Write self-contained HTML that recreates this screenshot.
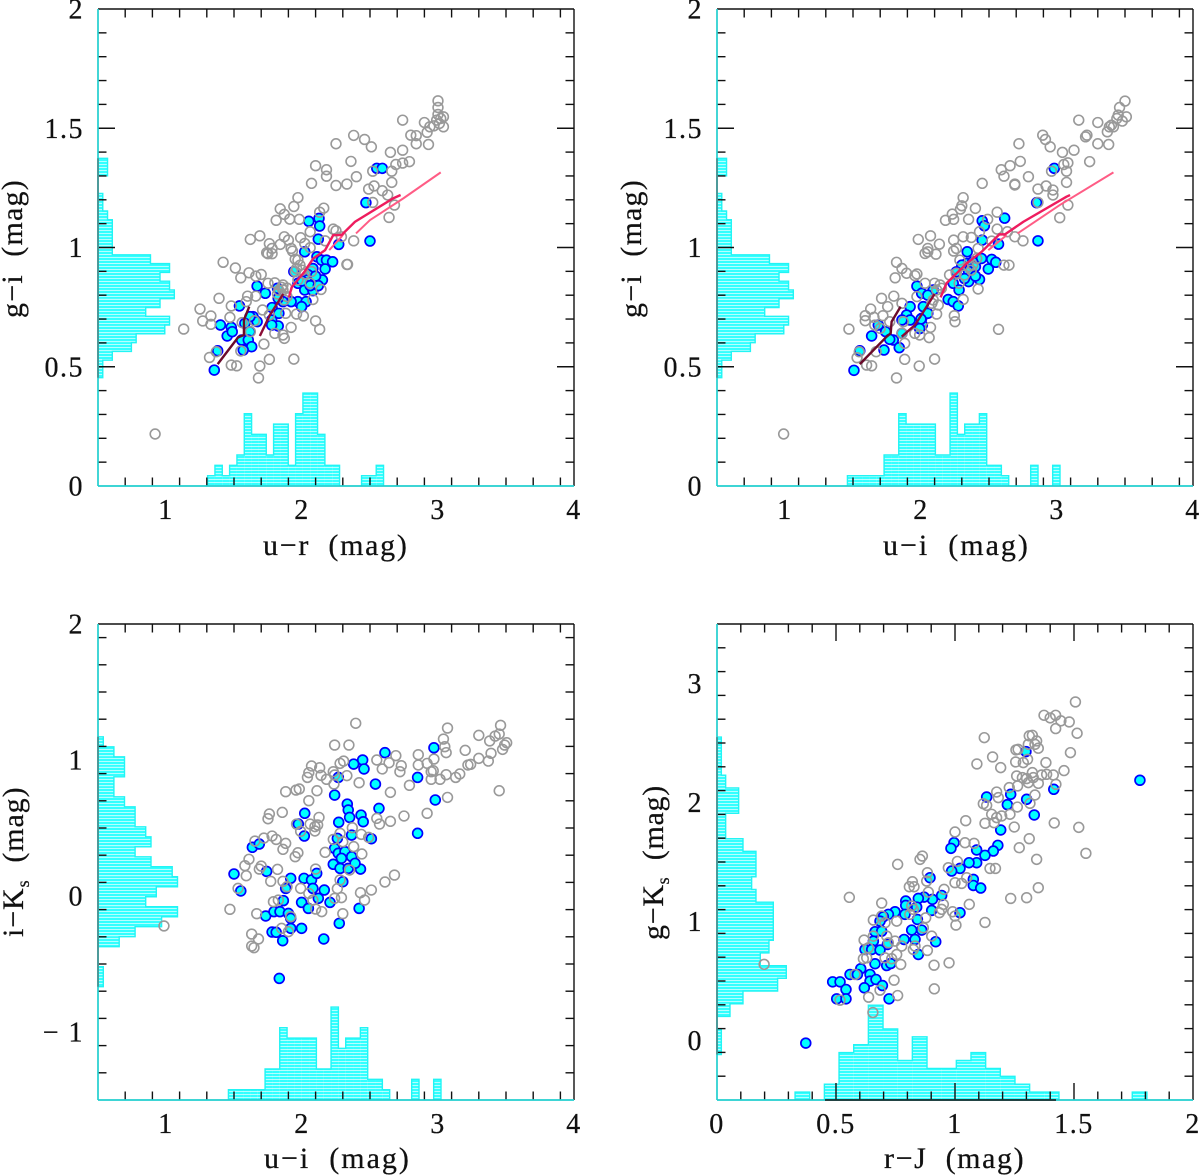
<!DOCTYPE html>
<html lang="en">
<head>
<meta charset="utf-8">
<title>Colour-colour diagrams</title>
<style>
html,body{margin:0;padding:0;background:#fff;}
svg{display:block;}
text{font-family:"Liberation Serif",serif;fill:#111;stroke:#111;stroke-width:0.25;white-space:pre;}
</style>
</head>
<body>
<svg id="figure" width="1200" height="1175" viewBox="0 0 1200 1175" xmlns="http://www.w3.org/2000/svg" xml:space="preserve">
<defs>
<pattern id="hatch" width="6" height="3" patternUnits="userSpaceOnUse">
<rect width="6" height="3" fill="#b4ffff"/>
<rect width="6" height="2" fill="#33ffff"/>
</pattern>
</defs>
<rect width="1200" height="1175" fill="#fff"/>
<g id="p1"></g>
<g id="p2"></g>
<g id="p3"></g>
<g id="p4"></g>
<text x="263" y="555" font-size="30" letter-spacing="1.7">u−r  (mag)</text>
<text x="883" y="555" font-size="30" letter-spacing="2">u−i  (mag)</text>
<text x="264" y="1168" font-size="30" letter-spacing="2">u−i  (mag)</text>
<text x="884" y="1168" font-size="30" letter-spacing="1.6">r−J  (mag)</text>
<text transform="translate(22,318) rotate(-90)" font-size="30" letter-spacing="1.2">g−i  (mag)</text>
<text transform="translate(641,318) rotate(-90)" font-size="30" letter-spacing="1.2">g−i  (mag)</text>
<text transform="translate(23,937) rotate(-90)" font-size="30" letter-spacing="0.9">i−K<tspan font-size="18" dy="6">s</tspan><tspan dy="-6">  (mag)</tspan></text>
<text transform="translate(663,940) rotate(-90)" font-size="30" letter-spacing="0.7">g−K<tspan font-size="18" dy="6">s</tspan><tspan dy="-6">  (mag)</tspan></text>
</svg>
<script>
/* ---------- data: [x, y] in magnitudes ---------- */
const p1Grey = [[3.00,1.615],[3.00,1.587],[3.00,1.558],[3.04,1.548],[3.02,1.541],[2.99,1.534],[3.01,1.52],[3.04,1.506],[2.97,1.51],[2.94,1.506],[2.90,1.524],[2.74,1.534],[2.92,1.483],[2.84,1.469],[2.80,1.471],[2.84,1.435],[2.93,1.432],[2.74,1.408],[2.65,1.399],[2.79,1.36],[2.74,1.354],[2.69,1.348],[2.66,1.32],[2.52,1.32],[2.38,1.47],[2.46,1.453],[2.51,1.422],[2.25,1.435],[2.36,1.361],[2.10,1.343],[2.18,1.326],[2.18,1.299],[2.40,1.297],[2.33,1.266],[2.25,1.26],[2.07,1.269],[2.66,1.273],[2.53,1.258],[2.49,1.245],[2.59,1.238],[2.63,1.22],[1.97,1.209],[1.94,1.172],[1.84,1.162],[2.16,1.165],[2.13,1.148],[1.87,1.139],[1.91,1.119],[1.81,1.114],[1.98,1.118],[2.52,1.189],[2.68,1.178],[2.64,1.126],[2.23,1.077],[2.25,1.07],[2.29,1.045],[2.06,1.066],[2.38,1.028],[1.69,1.049],[1.62,1.034],[1.76,1.016],[1.84,1.013],[1.87,1.045],[1.90,1.031],[1.99,1.041],[1.78,0.996],[1.74,0.978],[1.75,0.974],[1.78,0.974],[1.92,0.996],[1.93,0.985],[2.02,1.017],[2.06,0.999],[2.17,1.028],[2.33,0.929],[2.335,0.929],[1.95,0.951],[1.97,0.947],[1.42,0.938],[1.51,0.914],[1.61,0.894],[1.55,0.873],[1.66,0.88],[1.70,0.887],[2.00,0.905],[1.95,0.899],[2.06,0.85],[2.14,0.824],[1.75,0.85],[1.80,0.852],[1.86,0.843],[1.60,0.796],[1.66,0.796],[1.39,0.787],[1.59,0.773],[1.48,0.755],[1.25,0.742],[1.33,0.713],[1.27,0.692],[1.33,0.678],[1.47,0.707],[1.13,0.658],[1.71,0.738],[2.08,0.782],[1.96,0.721],[2.01,0.713],[2.10,0.692],[2.13,0.657],[1.92,0.665],[1.88,0.724],[1.65,0.693],[1.56,0.685],[1.62,0.647],[1.76,0.717],[1.80,0.64],[1.86,0.633],[1.87,0.619],[1.72,0.595],[1.48,0.507],[1.52,0.504],[1.69,0.503],[1.76,0.531],[1.94,0.532],[1.68,0.453],[1.37,0.563],[1.32,0.539],[1.55,0.566],[1.86,0.822],[1.82,0.805],[1.97,0.864],[2.07,0.899],[2.02,0.889],[1.96,0.912],[1.985,0.926],[1.85,0.833],[1.89,0.794],[1.89,0.83],[1.83,0.82],[1.87,0.78],[0.92,0.218]];
const p1Blue = [[2.55,1.332],[2.59,1.332],[2.47,1.188],[2.05,1.11],[2.125,1.122],[2.13,1.09],[2.12,1.035],[2.27,1.013],[2.50,1.027],[2.02,0.982],[2.11,0.961],[2.144,0.947],[2.18,0.947],[2.225,0.94],[2.17,0.91],[2.15,0.864],[2.08,0.912],[1.94,0.899],[2.046,0.885],[1.97,0.85],[2.02,0.822],[2.08,0.819],[2.03,0.864],[2.00,0.86],[2.06,0.84],[2.10,0.88],[2.12,0.84],[1.67,0.838],[1.73,0.808],[1.82,0.829],[1.97,0.773],[2.03,0.773],[1.997,0.752],[1.92,0.773],[1.86,0.773],[1.825,0.787],[1.78,0.748],[1.83,0.724],[1.54,0.755],[1.40,0.675],[1.48,0.665],[1.45,0.629],[1.487,0.647],[1.64,0.71],[1.67,0.689],[1.617,0.71],[1.58,0.682],[1.777,0.696],[1.825,0.671],[1.777,0.675],[1.617,0.647],[1.556,0.612],[1.605,0.612],[1.63,0.584],[1.568,0.57],[1.38,0.567],[1.355,0.486]];
const p2Grey = [[3.50,1.614],[3.46,1.587],[3.45,1.555],[3.51,1.548],[3.48,1.53],[3.44,1.541],[3.40,1.513],[3.385,1.506],[3.415,1.506],[3.37,1.485],[3.30,1.524],[3.16,1.534],[3.21,1.464],[3.22,1.471],[2.895,1.471],[2.915,1.453],[2.95,1.422],[3.30,1.435],[3.38,1.432],[3.125,1.408],[3.04,1.399],[3.08,1.355],[3.05,1.348],[3.24,1.36],[2.96,1.32],[3.07,1.32],[2.72,1.435],[2.73,1.361],[2.655,1.343],[2.59,1.326],[2.61,1.299],[2.79,1.297],[2.69,1.266],[2.69,1.262],[2.45,1.269],[3.07,1.273],[2.92,1.258],[2.86,1.245],[2.97,1.241],[2.97,1.22],[2.31,1.209],[2.30,1.175],[2.29,1.161],[2.40,1.164],[2.56,1.148],[2.23,1.14],[2.24,1.118],[2.18,1.114],[2.35,1.118],[2.49,1.118],[3.08,1.178],[3.02,1.125],[2.86,1.189],[2.56,1.077],[2.635,1.066],[2.43,1.066],[2.69,1.045],[2.75,1.028],[2.07,1.049],[1.98,1.034],[2.135,1.014],[2.24,1.031],[2.31,1.045],[2.37,1.042],[2.05,0.996],[2.05,0.982],[2.03,0.975],[2.11,0.972],[2.26,0.996],[2.24,0.985],[2.42,0.996],[2.52,1.027],[2.61,0.926],[2.647,0.926],[1.81,0.873],[1.86,0.912],[1.82,0.938],[1.894,0.892],[1.955,0.882],[1.97,0.889],[2.03,0.85],[2.10,0.85],[2.14,0.843],[2.42,0.826],[1.71,0.787],[1.80,0.796],[1.86,0.766],[1.755,0.752],[1.63,0.742],[1.59,0.714],[1.59,0.693],[1.654,0.707],[1.72,0.714],[1.77,0.689],[1.47,0.658],[1.66,0.675],[1.70,0.661],[1.97,0.794],[2.31,0.782],[2.115,0.721],[2.245,0.714],[2.25,0.689],[2.07,0.665],[2.57,0.657],[1.99,0.633],[1.955,0.64],[2.06,0.622],[1.88,0.598],[1.67,0.563],[1.53,0.538],[1.60,0.507],[1.637,0.504],[1.88,0.531],[2.10,0.532],[1.987,0.503],[1.82,0.453],[1.546,0.563],[1.87,0.689],[1.86,0.64],[2.127,0.759],[2.08,0.766],[2.15,0.829],[2.115,0.822],[2.09,0.78],[2.37,0.905],[2.35,0.92],[2.32,0.885],[2.26,0.892],[2.41,0.954],[2.286,0.947],[2.38,0.926],[2.28,0.85],[2.21,0.885],[0.99,0.218]];
const p2Blue = [[2.98,1.332],[2.85,1.188],[2.86,1.028],[2.615,1.123],[2.45,1.112],[2.466,1.091],[2.45,1.031],[2.57,1.014],[2.34,0.982],[2.52,0.95],[2.55,0.938],[2.495,0.91],[2.43,0.866],[2.445,0.954],[2.335,0.933],[2.30,0.926],[2.26,0.898],[2.35,0.857],[2.237,0.85],[2.28,0.822],[2.38,0.94],[2.40,0.92],[2.35,0.90],[2.32,0.87],[2.40,0.88],[1.97,0.838],[2.005,0.808],[2.09,0.822],[2.20,0.782],[2.237,0.773],[2.274,0.755],[1.92,0.752],[2.017,0.752],[1.894,0.717],[1.92,0.696],[1.86,0.696],[2.005,0.703],[2.01,0.675],[2.05,0.724],[2.00,0.70],[1.99,0.66],[1.686,0.675],[1.74,0.647],[1.86,0.64],[1.637,0.629],[1.796,0.612],[1.77,0.615],[1.84,0.58],[1.728,0.57],[1.55,0.567],[1.507,0.485],[2.05,0.80]];
const p3Grey = [[2.395,1.27],[3.46,1.255],[3.07,1.235],[3.45,1.191],[3.30,1.181],[3.42,1.176],[3.04,1.154],[3.38,1.14],[2.24,1.11],[2.345,1.11],[3.505,1.127],[3.49,1.11],[3.475,1.078],[3.05,1.098],[3.20,1.071],[3.06,1.054],[2.855,1.039],[2.69,1.032],[3.39,1.049],[3.30,1.012],[2.97,1.007],[3.37,0.992],[2.306,0.992],[2.28,0.975],[2.55,1.0],[2.64,0.98],[2.07,0.956],[2.13,0.943],[3.24,0.968],[3.22,0.963],[2.855,0.963],[2.92,0.975],[2.73,0.958],[2.59,0.934],[2.05,0.907],[2.04,0.872],[2.14,0.887],[2.23,0.914],[2.24,0.89],[2.18,0.858],[2.33,0.885],[2.965,0.921],[2.95,0.914],[2.72,0.914],[3.06,0.892],[3.16,0.897],[3.13,0.872],[3.015,0.858],[2.95,0.858],[2.79,0.814],[2.42,0.833],[2.235,0.823],[1.88,0.767],[1.956,0.779],[1.98,0.787],[2.11,0.774],[2.65,0.762],[3.45,0.774],[2.05,0.701],[3.07,0.725],[1.76,0.603],[1.75,0.568],[1.855,0.615],[2.125,0.578],[2.92,0.608],[2.75,0.588],[2.55,0.571],[2.57,0.529],[2.65,0.549],[2.115,0.522],[2.095,0.51],[2.06,0.529],[2.095,0.478],[1.99,0.475],[1.96,0.529],[2.37,0.502],[2.28,0.461],[2.436,0.453],[2.49,0.431],[2.23,0.416],[1.78,0.441],[1.72,0.426],[1.81,0.416],[1.654,0.404],[1.88,0.387],[1.86,0.343],[2.30,0.399],[2.38,0.363],[2.17,0.321],[2.44,0.309],[1.97,0.318],[1.95,0.289],[1.61,0.27],[1.58,0.223],[1.70,0.22],[1.686,0.198],[1.82,0.196],[1.59,0.149],[2.10,0.198],[2.68,0.154],[2.61,0.103],[2.51,0.044],[1.77,0.108],[1.86,0.108],[2.35,0.191],[2.43,0.024],[2.46,-0.03],[2.28,0.118],[2.26,0.054],[2.29,-0.012],[2.24,-0.017],[1.99,0.056],[2.05,0.019],[1.53,0.056],[1.47,-0.098],[1.667,-0.13],[1.79,-0.042],[1.826,-0.03],[2.10,-0.096],[2.145,-0.115],[2.08,-0.03],[2.30,-0.13],[1.63,-0.28],[1.68,-0.316],[1.63,-0.368],[1.647,-0.38],[1.85,-0.238],[1.90,-0.262],[1.917,-0.152],[1.89,0.068],[0.985,-0.22]];
const p3Blue = [[2.61,1.054],[2.97,1.09],[2.446,1.0],[2.38,0.97],[2.456,0.934],[2.85,0.872],[2.267,0.872],[2.54,0.823],[2.24,0.742],[2.98,0.706],[2.333,0.676],[2.566,0.644],[2.02,0.608],[2.34,0.632],[2.35,0.578],[2.434,0.595],[2.45,0.546],[2.27,0.542],[1.973,0.529],[2.017,0.441],[2.365,0.448],[2.26,0.424],[2.51,0.421],[2.85,0.461],[1.635,0.358],[1.686,0.382],[2.24,0.35],[2.267,0.314],[2.316,0.326],[2.365,0.289],[2.29,0.277],[2.23,0.233],[2.28,0.203],[2.34,0.203],[2.43,0.198],[2.39,0.24],[1.50,0.162],[1.74,0.181],[1.55,0.037],[1.88,0.056],[1.917,0.13],[2.015,0.13],[2.07,0.118],[2.108,0.166],[2.08,0.056],[2.164,0.044],[2.30,0.105],[2.12,-0.017],[1.997,-0.047],[2.047,-0.091],[2.206,-0.047],[2.42,-0.091],[2.274,-0.201],[2.16,-0.316],[1.833,-0.606],[1.863,-0.034],[1.733,-0.147],[1.794,-0.115],[1.838,-0.115],[1.90,-0.128],[1.917,-0.164],[1.917,-0.238],[1.997,-0.238],[1.78,-0.265],[1.81,-0.267],[1.858,-0.329]];
const p4Grey = [[1.506,2.845],[1.374,2.733],[1.40,2.711],[1.423,2.733],[1.445,2.686],[1.48,2.677],[1.423,2.621],[1.513,2.582],[1.123,2.545],[1.312,2.56],[1.325,2.565],[1.343,2.517],[1.308,2.489],[1.336,2.489],[1.35,2.456],[1.256,2.442],[1.265,2.447],[1.485,2.419],[1.158,2.383],[1.092,2.324],[1.255,2.341],[1.305,2.363],[1.287,2.335],[1.382,2.335],[1.192,2.293],[1.458,2.268],[1.259,2.223],[1.283,2.209],[1.325,2.251],[1.364,2.231],[1.385,2.237],[1.413,2.231],[1.301,2.201],[1.329,2.209],[1.308,2.167],[1.35,2.161],[1.424,2.153],[1.228,2.125],[1.263,2.139],[1.175,2.088],[1.182,2.041],[1.336,2.063],[1.315,1.993],[1.119,1.99],[1.133,1.976],[1.262,1.962],[1.231,1.901],[1.196,1.887],[1.154,1.901],[1.175,1.873],[1.164,1.83],[1.126,1.825],[1.249,1.794],[1.417,1.828],[1.52,1.791],[1.045,1.847],[1.0,1.752],[1.312,1.696],[1.27,1.62],[1.042,1.662],[1.08,1.657],[1.55,1.573],[1.343,1.522],[0.863,1.55],[0.853,1.522],[0.759,1.48],[0.972,1.452],[1.01,1.505],[1.147,1.446],[1.17,1.446],[0.884,1.41],[0.821,1.334],[0.808,1.292],[0.828,1.292],[0.881,1.34],[1.0,1.326],[1.028,1.32],[1.049,1.368],[1.35,1.284],[1.301,1.2],[1.234,1.194],[0.954,1.27],[0.888,1.247],[0.556,1.203],[0.692,1.155],[1.06,1.144],[0.951,1.144],[0.944,1.102],[0.934,1.074],[0.99,1.082],[1.0,1.046],[1.126,0.992],[1.004,0.97],[0.818,1.13],[0.825,1.102],[0.81,1.06],[0.877,1.031],[0.657,1.012],[0.692,1.046],[0.706,0.99],[0.755,1.003],[0.867,0.947],[0.902,0.877],[0.748,0.835],[0.776,0.793],[0.618,0.844],[0.832,0.793],[0.825,0.765],[0.884,0.757],[0.755,0.723],[0.734,0.687],[0.706,0.695],[0.629,0.695],[0.615,0.687],[0.772,0.639],[0.912,0.633],[0.975,0.653],[0.744,0.507],[0.685,0.423],[0.913,0.434],[0.759,0.378],[0.637,0.364],[0.517,0.339],[0.58,0.555],[0.636,0.779],[0.657,0.877],[0.72,0.821],[0.713,0.877],[0.655,0.235],[0.198,0.64]];
const p4Blue = [[1.298,2.428],[1.415,2.111],[1.234,2.069],[1.133,2.046],[1.301,2.027],[1.22,1.982],[1.333,1.895],[1.192,1.769],[0.996,1.662],[0.983,1.615],[1.18,1.64],[1.161,1.592],[1.126,1.556],[1.091,1.601],[1.091,1.494],[1.059,1.494],[1.021,1.446],[0.986,1.424],[1.077,1.354],[1.077,1.303],[1.108,1.281],[0.895,1.368],[0.944,1.219],[0.905,1.186],[0.902,1.093],[1.021,1.074],[0.87,1.205],[0.846,1.194],[0.793,1.172],[0.793,1.135],[0.79,1.06],[0.748,1.082],[0.72,1.06],[0.839,1.121],[0.842,1.017],[0.699,1.04],[0.685,1.003],[0.664,0.914],[0.692,0.919],[0.86,0.928],[0.818,0.928],[0.786,0.849],[0.832,0.849],[0.919,0.83],[0.846,0.723],[0.657,0.835],[0.716,0.807],[0.622,0.765],[0.65,0.765],[0.685,0.76],[0.664,0.645],[0.604,0.603],[0.713,0.63],[0.73,0.647],[0.559,0.555],[0.59,0.555],[0.643,0.555],[0.643,0.499],[0.668,0.513],[0.695,0.462],[0.486,0.493],[0.517,0.493],[0.542,0.429],[0.619,0.443],[0.503,0.35],[0.542,0.35],[0.723,0.35],[1.777,2.187],[0.373,-0.022]];

/* model tracks */
const p1TrackA = [[1.38,0.511],[1.53,0.623],[1.573,0.633],[1.573,0.696],[1.612,0.752]];
const p1TrackB = [[1.69,0.629],[1.764,0.717],[1.862,0.805]];
const p1TrackC = [[1.904,0.791],[1.924,0.833],[2.02,0.90],[2.083,0.954],[2.17,0.989],[2.23,1.052],[2.29,1.052],[2.39,1.108],[2.67,1.206],[2.725,1.22]];
const p1TrackD = [[2.20,0.989],[2.29,1.045],[2.316,1.066]];
const p1TrackE = [[2.397,1.059],[2.50,1.115],[2.745,1.206],[3.02,1.315]];
const p2TrackA = [[1.55,0.511],[1.747,0.626],[1.777,0.64],[1.784,0.689],[1.85,0.752]];
const p2TrackB = [[1.858,0.626],[1.956,0.675],[2.10,0.805]];
const p2TrackC = [[2.144,0.791],[2.188,0.85],[2.335,0.933],[2.446,0.982],[2.576,1.055],[2.617,1.055],[2.753,1.108],[3.07,1.213],[3.096,1.22]];
const p2TrackD = [[2.495,0.989],[2.63,1.052]];
const p2TrackE = [[2.71,1.059],[3.02,1.178],[3.415,1.315]];

/* histogram counts */
const urCounts = [1,2,1,2,3,7,5,5,3,6,6,2,7,9,9,5,2,2,0,0,0,1,1,2];
const uiCounts = [1,1,1,1,1,3,3,7,6,6,6,6,3,3,9,5,6,6,7,2,2,1,0,0,0,2,0,0,2];
const giCounts = [1,1,3,7,8,14,15,10,13,16,15,13,15,11,3,3,3,3,2,1,1,0,0,2,2];
const iksCounts = [1,1,0,0,4,7,12,15,9,11,15,14,10,7,10,9,7,7,5,3,3,5,5,3,1];
const rjCounts = [1,0,2,6,7,12,9,5,8,4,4,5,6,4,3,2,1,1,0,0,0,0,0,1];
const gksCounts = [1,1,0,3,6,14,16,10,12,13,13,13,9,8,9,9,6,2,2,5,5,2,1,1,1];

/* tick values and labels */
const colourXTicks = [1,2,3,4];
const colourXLabels = ['1','2','3','4'];
const giYTicks = [0,0.5,1,1.5,2];
const giYLabels = ['0','0.5','1','1.5','2'];
const iksYTicks = [-1,0,1,2];
const iksYLabels = ['− 1','0','1','2'];
const rjXTicks = [0,0.5,1,1.5,2];
const rjXLabels = ['0','0.5','1','1.5','2'];
const gksYTicks = [0,1,2,3];
const gksYLabels = ['0','1','2','3'];

const NS = 'http://www.w3.org/2000/svg';
function make(tag, parent, attrs, name) {
  const el = document.createElementNS(NS, tag);
  for (const k in attrs) el.setAttribute(k, attrs[k]);
  
  
  parent.appendChild(el);
  return el;
}
function linear(d0, d1, r0, r1) {
  return function (v) { return r0 + (v - d0) * (r1 - r0) / (d1 - d0); };
}

function drawXHist(g, P, sx) {
  const base = P.bottom;
  let run = null;
  const runs = [];
  P.xCounts.forEach(function (c, i) {
    const a = sx(P.xStart + i * P.xWidth), b = sx(P.xStart + (i + 1) * P.xWidth);
    if (c > 0) {
      make('rect', g, {x: a, y: base - c * P.xUnit, width: b - a, height: c * P.xUnit, fill: 'url(#hatch)'}, 'histogram-x-bar');
      if (!run) { run = []; runs.push(run); run.push('M' + a + ' ' + base); }
      run.push('L' + a + ' ' + (base - c * P.xUnit));
      run.push('L' + b + ' ' + (base - c * P.xUnit));
      run.last = b;
    } else if (run) {
      run.push('L' + run.last + ' ' + base);
      run = null;
    }
  });
  if (run) run.push('L' + run.last + ' ' + base);
  runs.forEach(function (r) {
    make('path', g, {d: r.join(''), fill: 'none', stroke: '#22f4f4', 'stroke-width': 1.4}, 'histogram-x-outline');
  });
}
function drawYHist(g, P, sy) {
  const base = P.left;
  let run = null;
  const runs = [];
  P.yCounts.forEach(function (c, i) {
    const a = sy(P.yStart + i * P.yWidth), b = sy(P.yStart + (i + 1) * P.yWidth);
    if (c > 0) {
      make('rect', g, {x: base, y: b, width: c * P.yUnit, height: a - b, fill: 'url(#hatch)'}, 'histogram-y-bar');
      if (!run) { run = []; runs.push(run); run.push('M' + base + ' ' + a); }
      run.push('L' + (base + c * P.yUnit) + ' ' + a);
      run.push('L' + (base + c * P.yUnit) + ' ' + b);
      run.last = b;
    } else if (run) {
      run.push('L' + base + ' ' + run.last);
      run = null;
    }
  });
  if (run) run.push('L' + base + ' ' + run.last);
  runs.forEach(function (r) {
    make('path', g, {d: r.join(''), fill: 'none', stroke: '#22f4f4', 'stroke-width': 1.4}, 'histogram-y-outline');
  });
}
function drawTicks(g, P, sx, sy) {
  const TICK = {stroke: '#111', 'stroke-width': 1.4};
  function xTick(px, len) {
    make('line', g, Object.assign({x1: px, x2: px, y1: P.bottom, y2: P.bottom - len}, TICK), 'x-axis-tick');
    make('line', g, Object.assign({x1: px, x2: px, y1: P.top, y2: P.top + len}, TICK), 'x-axis-tick-top');
  }
  function yTick(py, len) {
    make('line', g, Object.assign({x1: P.left, x2: P.left + len, y1: py, y2: py}, TICK), 'y-axis-tick');
    make('line', g, Object.assign({x1: P.right, x2: P.right - len, y1: py, y2: py}, TICK), 'y-axis-tick-right');
  }
  const nx = Math.round((P.xMax - P.xMin) / P.xMinor);
  for (let i = 1; i < nx; i++) {
    const v = P.xMin + i * P.xMinor;
    const major = P.xTicks.some(function (t) { return Math.abs(t - v) < 1e-6; });
    xTick(sx(v), major ? 17 : 8.5);
  }
  const ny = Math.round((P.yMax - P.yMin) / P.yMinor);
  for (let i = 1; i < ny; i++) {
    const v = P.yMin + i * P.yMinor;
    const major = P.yTicks.some(function (t) { return Math.abs(t - v) < 1e-6; });
    yTick(sy(v), major ? 17 : 8.5);
  }
  P.xTicks.forEach(function (t, i) {
    const el = make('text', g, {x: sx(t), y: P.bottom + 33, 'font-size': 28, 'letter-spacing': 1.5, 'text-anchor': 'middle'}, 'x-tick-label');
    el.textContent = P.xLabels[i];
  });
  P.yTicks.forEach(function (t, i) {
    const el = make('text', g, {x: P.left - 14, y: sy(t) + 9.5, 'font-size': 28, 'letter-spacing': 1.5, 'text-anchor': 'end'}, 'y-tick-label');
    el.textContent = P.yLabels[i];
  });
}
function drawFrame(g, P, sy) {
  make('line', g, {x1: P.left, x2: P.right, y1: P.top, y2: P.top, stroke: '#111', 'stroke-width': 1.4}, 'frame-top');
  make('line', g, {x1: P.right, x2: P.right, y1: P.top, y2: P.bottom, stroke: '#111', 'stroke-width': 1.4}, 'frame-right');
  make('line', g, {x1: P.left, x2: P.right, y1: P.bottom, y2: P.bottom, stroke: '#22cfcf', 'stroke-width': 1.7}, 'frame-bottom');
  make('line', g, {x1: P.left, x2: P.left, y1: P.top, y2: P.bottom, stroke: '#22cfcf', 'stroke-width': 1.7}, 'frame-left');
  const a = sy(P.yStart), b = sy(P.yStart + P.yCounts.length * P.yWidth);
  make('line', g, {x1: P.left, x2: P.left, y1: a, y2: b, stroke: '#4a8f8f', 'stroke-width': 1.7}, 'frame-left-under-histogram');
  if (P.darkBase) {
    make('line', g, {x1: P.darkBase[0], x2: P.darkBase[1], y1: P.bottom, y2: P.bottom, stroke: '#111', 'stroke-width': 1.5}, 'frame-bottom-under-histogram');
  }
}
function drawPoints(g, P, sx, sy) {
  P.blue.forEach(function (p) {
    make('circle', g, {cx: sx(p[0]), cy: sy(p[1]), r: 4.9, fill: '#00ffff', stroke: '#0000ff', 'stroke-width': 1.7}, 'selected-star-point');
  });
  P.grey.forEach(function (p) {
    make('circle', g, {cx: sx(p[0]), cy: sy(p[1]), r: 4.9, fill: 'none', stroke: '#999', 'stroke-width': 1.6}, 'sample-star-point');
  });
}
function drawTracks(g, P, sx, sy) {
  (P.tracks || []).forEach(function (t) {
    const pts = t.data.map(function (p) { return sx(p[0]) + ',' + sy(p[1]); }).join(' ');
    make('polyline', g, {points: pts, fill: 'none', stroke: t.color, 'stroke-width': t.w, 'stroke-linejoin': 'round'}, 'model-track');
  });
}

const panels = [
  {id: 'p1', left: 98, right: 574, top: 9, bottom: 486, xMin: 0.5, xMax: 4, yMin: 0, yMax: 2, xMinor: 0.2, yMinor: 0.1,
   xTicks: colourXTicks, xLabels: colourXLabels, yTicks: giYTicks, yLabels: giYLabels,
   grey: p1Grey, blue: p1Blue,
   xCounts: urCounts, xStart: 1.306, xWidth: 0.0539, xUnit: 10.33,
   yCounts: giCounts, yStart: 0.454, yWidth: 0.0368, yUnit: 4.77,
   tracks: [{data: p1TrackE, color: '#ff5c85', w: 2}, {data: p1TrackD, color: '#ff5c85', w: 2}, {data: p1TrackA, color: '#6a0a2a', w: 2.4}, {data: p1TrackB, color: '#8a0c36', w: 2.4}, {data: p1TrackC, color: '#ee1c5e', w: 2.4}]},
  {id: 'p2', left: 717, right: 1193, top: 9, bottom: 486, xMin: 0.5, xMax: 4, yMin: 0, yMax: 2, xMinor: 0.2, yMinor: 0.1,
   xTicks: colourXTicks, xLabels: colourXLabels, yTicks: giYTicks, yLabels: giYLabels,
   grey: p2Grey, blue: p2Blue,
   xCounts: uiCounts, xStart: 1.459, xWidth: 0.0539, xUnit: 10.33,
   yCounts: giCounts, yStart: 0.454, yWidth: 0.0368, yUnit: 4.77,
   tracks: [{data: p2TrackE, color: '#ff5c85', w: 2}, {data: p2TrackD, color: '#ff5c85', w: 2}, {data: p2TrackA, color: '#6a0a2a', w: 2.4}, {data: p2TrackB, color: '#8a0c36', w: 2.4}, {data: p2TrackC, color: '#ee1c5e', w: 2.4}]},
  {id: 'p3', left: 98, right: 574, top: 624, bottom: 1100, xMin: 0.5, xMax: 4, yMin: -1.5, yMax: 2, xMinor: 0.2, yMinor: 0.2,
   xTicks: colourXTicks, xLabels: colourXLabels, yTicks: iksYTicks, yLabels: iksYLabels,
   grey: p3Grey, blue: p3Blue,
   xCounts: uiCounts, xStart: 1.459, xWidth: 0.0539, xUnit: 10.33,
   yCounts: iksCounts, yStart: -0.667, yWidth: 0.0735, yUnit: 5.3},
  {id: 'p4', left: 717, right: 1193, top: 624, bottom: 1100, xMin: 0, xMax: 2, yMin: -0.5, yMax: 3.5, xMinor: 0.1, yMinor: 0.2,
   xTicks: rjXTicks, xLabels: rjXLabels, yTicks: gksYTicks, yLabels: gksYLabels,
   grey: p4Grey, blue: p4Blue,
   xCounts: rjCounts, xStart: 0.328, xWidth: 0.0616, xUnit: 7.9,
   yCounts: gksCounts, yStart: -0.118, yWidth: 0.1067, yUnit: 4.33, darkBase: [825, 1056]}
];

panels.forEach(function (P) {
  const g = document.getElementById(P.id);
  const sx = linear(P.xMin, P.xMax, P.left, P.right);
  const sy = linear(P.yMin, P.yMax, P.bottom, P.top);
  drawXHist(g, P, sx);
  drawYHist(g, P, sy);
  drawTicks(g, P, sx, sy);
  drawFrame(g, P, sy);
  drawPoints(g, P, sx, sy);
  drawTracks(g, P, sx, sy);
});
</script>
</body>
</html>
